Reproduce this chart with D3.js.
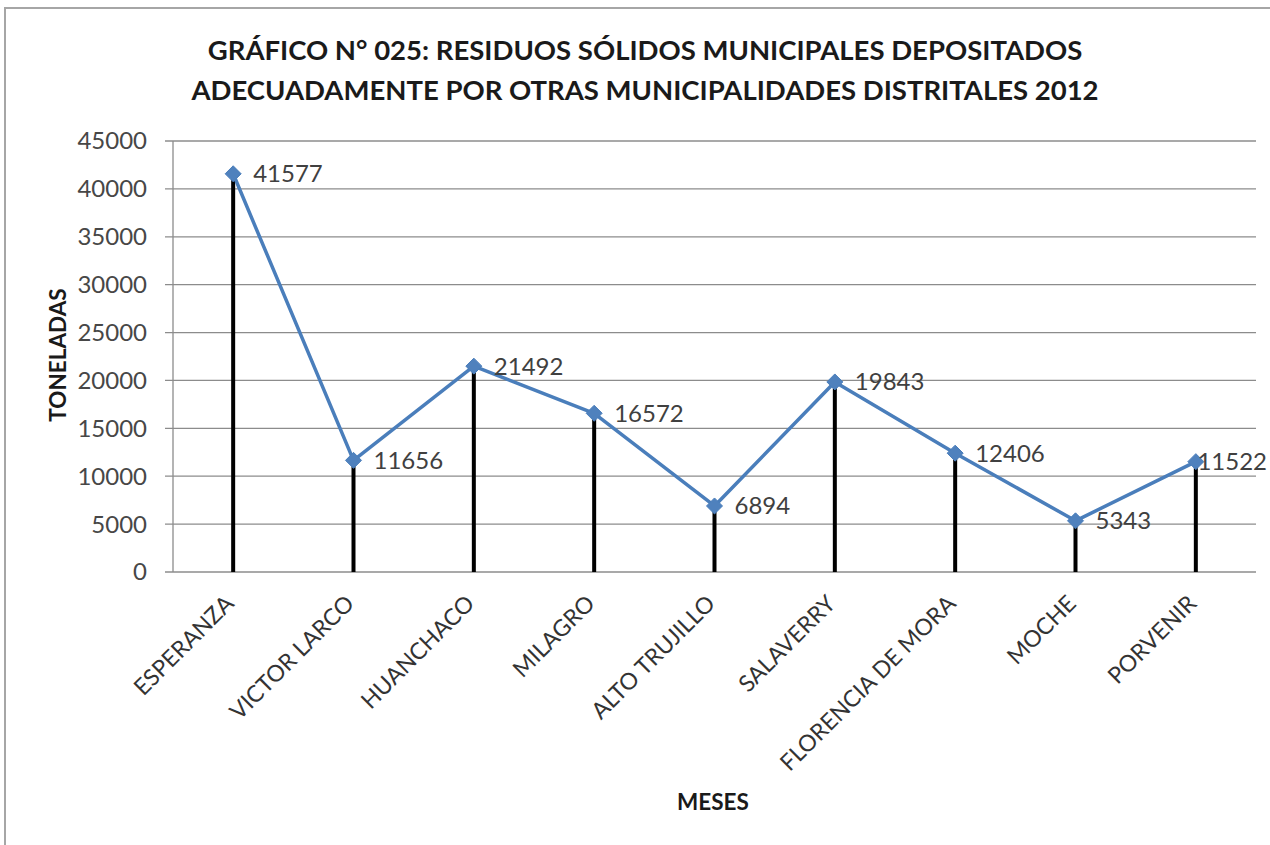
<!DOCTYPE html>
<html>
<head>
<meta charset="utf-8">
<script src="https://cdn.jsdelivr.net/npm/d3@7"></script>
<style>
  body { margin: 0; background: #fff; }
  text { font-family: Lato, "Open Sans", sans-serif; }
</style>
</head>
<body>
<div id="vis"></div>
<script>
var width = 1270;
var height = 845;

var margin = {top: 141, left: 173, right: 1256, bottom: 572};

var title_lines = ["GRÁFICO N° 025: RESIDUOS SÓLIDOS MUNICIPALES DEPOSITADOS",
  "ADECUADAMENTE POR OTRAS MUNICIPALIDADES DISTRITALES 2012"];
var categories = ["ESPERANZA", "VICTOR LARCO", "HUANCHACO", "MILAGRO", "ALTO TRUJILLO",
  "SALAVERRY", "FLORENCIA DE MORA", "MOCHE", "PORVENIR"];
var values = [41577, 11656, 21492, 16572, 6894, 19843, 12406, 5343, 11522];
var y_ticks = [0, 5000, 10000, 15000, 20000, 25000, 30000, 35000, 40000, 45000];
var y_title = "TONELADAS";
var x_title = "MESES";

var data = categories.map(function(c, i){ return {key: c, value: values[i]}; });

var svg = d3.select("#vis").append("svg")
  .attr("width", width)
  .attr("height", height);

// outer chart border
svg.append("rect")
  .attr("x", 5).attr("y", 8)
  .attr("width", 1300).attr("height", 900)
  .attr("fill", "#fff")
  .attr("stroke", "#a6a6a6")
  .attr("stroke-width", 2);

var x_scale = d3.scaleBand()
  .domain(categories)
  .range([margin.left, margin.right]);

var y_scale = d3.scaleLinear()
  .domain([0, 45000])
  .range([margin.bottom, margin.top]);

// gridlines
svg.append("g").selectAll("line")
  .data(y_ticks)
  .enter().append("line")
  .attr("x1", margin.left - 8)
  .attr("x2", margin.right)
  .attr("y1", d => y_scale(d))
  .attr("y2", d => y_scale(d))
  .attr("stroke", "#8c8c8c")
  .attr("stroke-width", 1.3);

// y axis line
svg.append("line")
  .attr("x1", margin.left).attr("x2", margin.left)
  .attr("y1", margin.top).attr("y2", margin.bottom)
  .attr("stroke", "#8c8c8c")
  .attr("stroke-width", 1.3);

// y tick labels
svg.append("g").selectAll("text")
  .data(y_ticks)
  .enter().append("text")
  .attr("x", 147)
  .attr("y", d => y_scale(d))
  .attr("dy", "0.35em")
  .attr("text-anchor", "end")
  .attr("font-size", 24)
  .attr("fill", "#474747")
  .text(d => d);

var cx = d => x_scale(d.key) + x_scale.bandwidth() / 2;

// stems
svg.append("g").selectAll("line")
  .data(data)
  .enter().append("line")
  .attr("x1", cx).attr("x2", cx)
  .attr("y1", d => y_scale(d.value))
  .attr("y2", y_scale(0))
  .attr("stroke", "#000")
  .attr("stroke-width", 4);

// series line
var line = d3.line().x(cx).y(d => y_scale(d.value));
svg.append("path")
  .datum(data)
  .attr("d", line)
  .attr("fill", "none")
  .attr("stroke", "#4a7ebb")
  .attr("stroke-width", 3.5)
  .attr("stroke-linejoin", "round");

// diamond markers
svg.append("g").selectAll("path")
  .data(data)
  .enter().append("path")
  .attr("transform", d => "translate(" + cx(d) + "," + y_scale(d.value) + ")")
  .attr("d", "M0,-8L8,0L0,8L-8,0Z")
  .attr("fill", "#4f81bd")
  .attr("stroke", "#4a7ebb")
  .attr("stroke-width", 1);

// data labels, pushed left when they would run off the page
svg.append("g").selectAll("text")
  .data(data)
  .enter().append("text")
  .attr("y", d => y_scale(d.value))
  .attr("dy", "0.35em")
  .attr("font-size", 24)
  .attr("fill", "#404040")
  .text(d => d.value)
  .attr("x", function(d){
    var w = this.getComputedTextLength();
    return Math.min(cx(d) + 20, width - w - 3);
  });

// category labels
svg.append("g").selectAll("text")
  .data(categories)
  .enter().append("text")
  .attr("transform", d => "translate(" + (x_scale(d) + x_scale.bandwidth() / 2 + 2) + ",605) rotate(-45)")
  .attr("text-anchor", "end")
  .attr("font-size", 23)
  .attr("fill", "#333")
  .text(d => d);

// title
svg.append("g").selectAll("text")
  .data(title_lines)
  .enter().append("text")
  .attr("x", 645)
  .attr("y", (d, i) => 60 + i * 40)
  .attr("text-anchor", "middle")
  .attr("font-size", 27.5)
  .attr("font-weight", "bold")
  .attr("fill", "#1a1a1a")
  .text(d => d);

// axis titles
svg.append("text")
  .attr("transform", "translate(66,355) rotate(-90)")
  .attr("text-anchor", "middle")
  .attr("font-size", 22.5)
  .attr("font-weight", "bold")
  .attr("fill", "#1a1a1a")
  .text(y_title);

svg.append("text")
  .attr("x", 713).attr("y", 810)
  .attr("text-anchor", "middle")
  .attr("font-size", 22.5)
  .attr("font-weight", "bold")
  .attr("fill", "#1a1a1a")
  .text(x_title);
</script>
</body>
</html>
